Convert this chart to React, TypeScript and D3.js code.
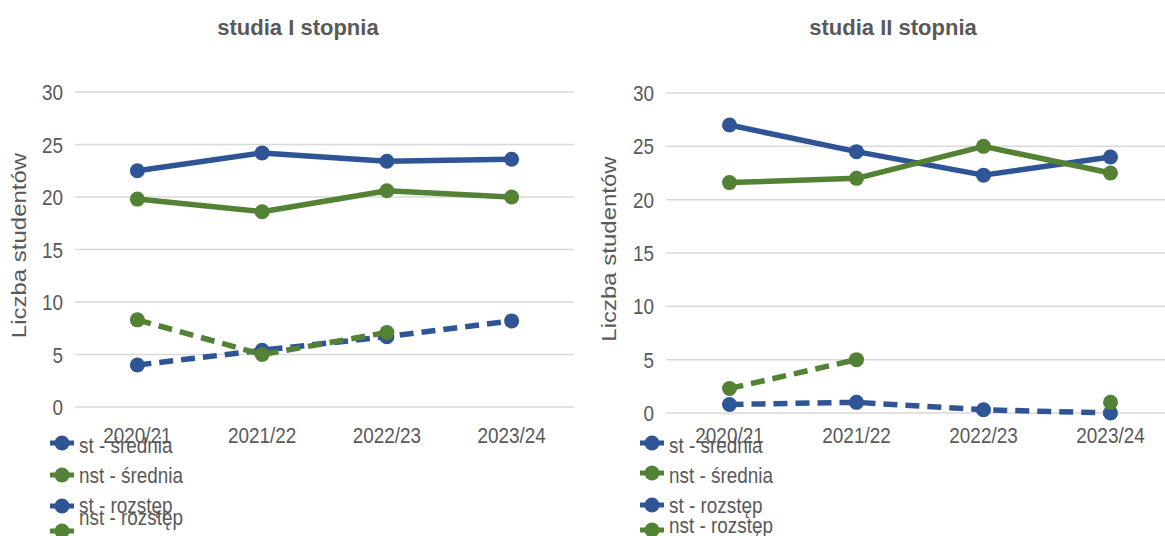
import React from "react";
import * as d3 from "d3";

const categories = ["2020/21", "2021/22", "2022/23", "2023/24"];
const seriesNames = ["st - średnia", "nst - średnia", "st - rozstęp", "nst - rozstęp"];
const yTicks = [0, 5, 10, 15, 20, 25, 30];

// studia I stopnia
const firstStSrednia = [22.5, 24.2, 23.4, 23.6];
const firstNstSrednia = [19.8, 18.6, 20.6, 20.0];
const firstStRozstep = [4.0, 5.4, 6.7, 8.2];
const firstNstRozstep = [8.3, 5.0, 7.1, null];

// studia II stopnia
const secondStSrednia = [27.0, 24.5, 22.3, 24.0];
const secondNstSrednia = [21.6, 22.0, 25.0, 22.5];
const secondStRozstep = [0.8, 1.0, 0.3, 0.0];
const secondNstRozstep = [2.3, 5.0, null, 1.0];

const BLUE = "#2F5597";
const GREEN = "#548235";
const TEXT = "#595959";
const GRID = "#D9D9D9";
const SANS = "'Liberation Sans', Arial, sans-serif";
const SQUEEZE = 0.86;

const styles = [
  { color: BLUE, dash: null },
  { color: GREEN, dash: null },
  { color: BLUE, dash: "14 8" },
  { color: GREEN, dash: "14 8" },
];

// the source text is horizontally squeezed, so scale it in x
const SqText = ({ x, y, anchor, children }: any) => (
  <text
    transform={`translate(${x},${y}) scale(${SQUEEZE},1)`}
    textAnchor={anchor || "start"}
    fontFamily={SANS}
    fontSize={22}
    fill={TEXT}
  >
    {children}
  </text>
);

const Panel = (props: any) => {
  const { title, series, x0, x1, yTop, yBottom, titleX, axisTitleX, legendX, markerYs, textYs } = props;
  const x = d3.scalePoint().domain(categories).range([x0, x1]).padding(0.5);
  const y = d3.scaleLinear().domain([0, 30]).range([yBottom, yTop]);
  const line = d3
    .line<number | null>()
    .defined((d) => d != null)
    .x((d, i) => x(categories[i]) as number)
    .y((d) => y(d as number));

  return (
    <g>
      <text x={titleX} y={35} textAnchor="middle" fontFamily={SANS} fontWeight="bold" fontSize={22} fill={TEXT}>
        {title}
      </text>
      {yTicks.map((t) => (
        <g key={t}>
          <line x1={x0} x2={x1} y1={y(t)} y2={y(t)} stroke={GRID} strokeWidth={1.5} />
          <SqText x={x0 - 12} y={y(t) + 8} anchor="end">
            {t}
          </SqText>
        </g>
      ))}
      <text
        transform={`translate(${axisTitleX},${(yTop + yBottom) / 2 - 4}) scale(1,1) rotate(-90) scale(1,${SQUEEZE})`}
        textAnchor="middle"
        dy="0.35em"
        fontFamily={SANS}
        fontSize={24}
        fill={TEXT}
      >
        Liczba studentów
      </text>
      {categories.map((c) => (
        <SqText key={c} x={x(c)} y={443} anchor="middle">
          {c}
        </SqText>
      ))}
      {series.map((s: (number | null)[], si: number) => (
        <g key={si}>
          <path
            d={line(s) || ""}
            fill="none"
            stroke={styles[si].color}
            strokeWidth={5.5}
            strokeDasharray={styles[si].dash || undefined}
            strokeLinejoin="round"
          />
          {s.map((v, i) =>
            v == null ? null : (
              <circle key={i} cx={x(categories[i])} cy={y(v)} r={7.5} fill={styles[si].color} />
            )
          )}
        </g>
      ))}
      {seriesNames.map((n, i) => (
        <g key={n}>
          <line x1={legendX - 12} x2={legendX + 12} y1={markerYs[i]} y2={markerYs[i]} stroke={styles[i].color} strokeWidth={5} />
          <circle cx={legendX} cy={markerYs[i]} r={7.5} fill={styles[i].color} />
          <SqText x={legendX + 17} y={textYs[i]}>
            {n}
          </SqText>
        </g>
      ))}
    </g>
  );
};

export default function App() {
  return (
    <svg width={1165} height={536} style={{ position: "absolute", left: 0, top: 0, background: "#fff" }}>
      <Panel
        title="studia I stopnia"
        series={[firstStSrednia, firstNstSrednia, firstStRozstep, firstNstRozstep]}
        x0={75}
        x1={574}
        yTop={92}
        yBottom={407}
        titleX={298}
        axisTitleX={19}
        legendX={62}
        markerYs={[443, 475, 506, 531]}
        textYs={[453, 483, 513, 525]}
      />
      <Panel
        title="studia II stopnia"
        series={[secondStSrednia, secondNstSrednia, secondStRozstep, secondNstRozstep]}
        x0={666}
        x1={1174}
        yTop={93}
        yBottom={413}
        titleX={893}
        axisTitleX={609}
        legendX={652}
        markerYs={[443, 473, 505, 530]}
        textYs={[453, 483, 513, 533]}
      />
    </svg>
  );
}
